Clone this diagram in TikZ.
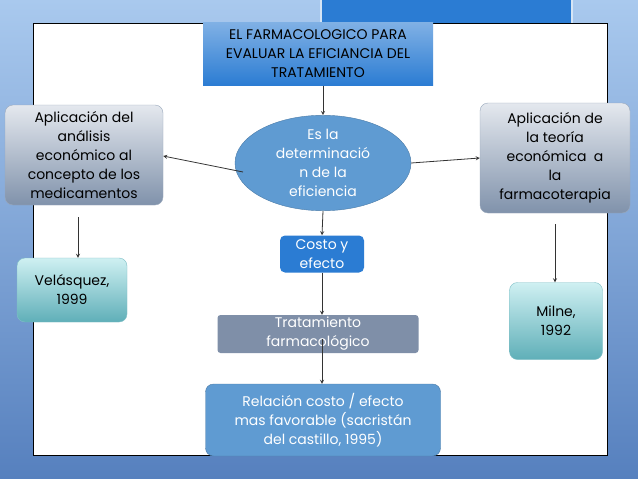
\documentclass[tikz,border=0pt]{standalone}
\usepackage{fontspec}
\setmainfont{Poppins}
\usetikzlibrary{shapes.geometric}
\definecolor{bgtop}{HTML}{A9C9EE}
\definecolor{bgbot}{HTML}{5680BE}
\definecolor{dblue}{HTML}{2B7CD3}
\definecolor{mblue}{HTML}{5F9BD2}
\definecolor{gtop}{HTML}{E4E8EE}
\definecolor{gbot}{HTML}{8092AB}
\definecolor{ttop}{HTML}{CFF0F2}
\definecolor{tbot}{HTML}{5FAFB8}
\definecolor{slate}{HTML}{7F8FA8}
\tikzset{
 box/.style={rounded corners=8pt, align=center, inner sep=0pt, font=\fontsize{14}{19}\selectfont},
 graybox/.style={box, top color=gtop, bottom color=gbot, draw=gbot!80},
 tealbox/.style={box, top color=ttop, bottom color=tbot, draw=tbot!80},
 arr/.style={-stealth, line width=0.8pt, black!80},
}
\begin{document}
\begin{tikzpicture}[x=1pt,y=-1pt]
\useasboundingbox (0,0) rectangle (638,479);
\shade[top color=bgtop, bottom color=bgbot] (0,0) rectangle (638,479);
\fill[dblue, draw=white!80!dblue, line width=2pt] (321,-2) rectangle (572,55);
\draw[fill=white, line width=0.8pt] (33,23) rectangle (607,455);
\node[box, rounded corners=0pt, top color=dblue!60, bottom color=dblue, minimum width=230pt, minimum height=63pt, font=\fontsize{14}{19}\selectfont] (t) at (318,54) {EL FARMACOLOGICO PARA\\EVALUAR LA EFICIANCIA DEL\\TRATAMIENTO};
\node[ellipse, fill=mblue, draw=mblue!80!black, minimum width=176pt, minimum height=92pt, inner sep=0pt, align=center, text=white, font=\fontsize{14}{19}\selectfont] (e) at (323,163) {Es la\\determinació\\n de la\\eficiencia};
\node[graybox, minimum width=158pt, minimum height=100pt] (l) at (84,155) {Aplicación del\\análisis\\económico al\\concepto de los\\medicamentos};
\node[graybox, minimum width=150pt, minimum height=110pt] (r) at (555,158) {Aplicación de\\la teoría\\económica\ \ a\\la\\farmacoterapia};
\node[tealbox, minimum width=110pt, minimum height=64pt] (v) at (72,290) {Velásquez,\\1999};
\node[tealbox, minimum width=93pt, minimum height=77pt] (m) at (556,321) {Milne,\\1992};
\node[box, fill=dblue, rounded corners=5pt, text=white, minimum width=84pt, minimum height=37pt] (c) at (322,254) {Costo y\\efecto};
\node[box, fill=slate, rounded corners=3pt, text=white, minimum width=201pt, minimum height=38pt] (tr) at (318,334) {Tratamiento\\farmacológico};
\node[box, fill=mblue, draw=mblue!80!black, text=white, minimum width=235pt, minimum height=72pt] (rel) at (323,420) {Relación costo / efecto\\mas favorable (sacristán\\del castillo, 1995)};
\draw[arr] (t.south -| e.north) -- (e.north);
\draw[arr] ([xshift=-80pt,yshift=-9pt]e.center) -- ([yshift=-1pt]l.east);
\draw[arr] (e.east) -- (r.west);
\draw[arr] (e.south) -- (c.north);
\draw[arr] (c.south) -- (tr.north -| c.south);
\draw[arr] ([yshift=-5pt]tr.center -| c.south) -- (rel.north -| c.south);
\coordinate (la) at (78,217);
\coordinate (ra) at (555,224);
\draw[arr] (la) -- (la |- v.north);
\draw[arr] (ra) -- (ra |- m.north);
\end{tikzpicture}
\end{document}
